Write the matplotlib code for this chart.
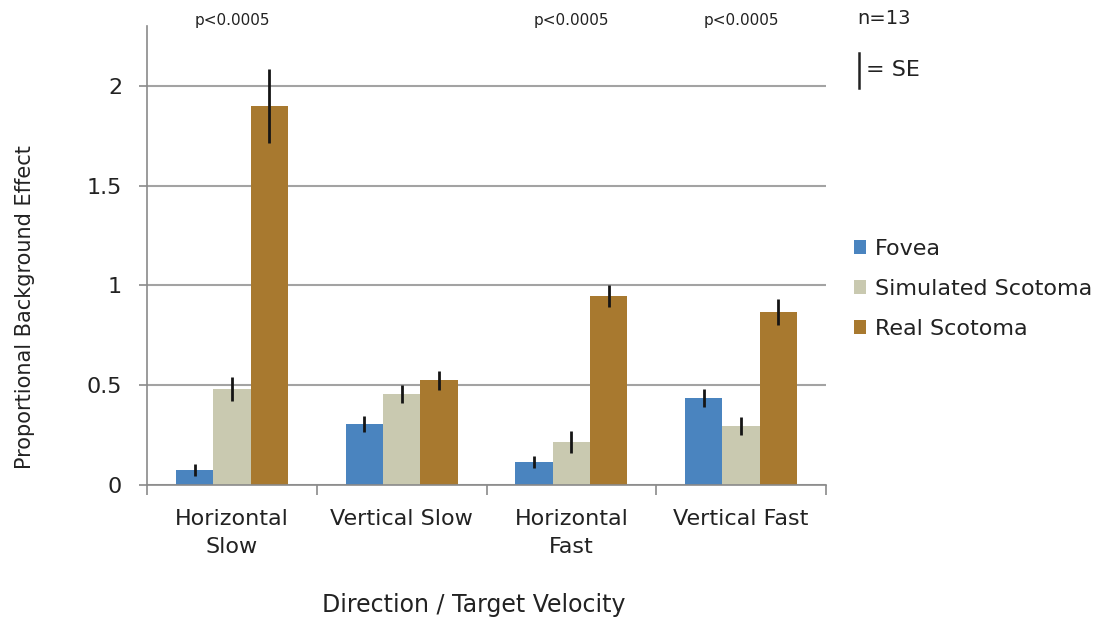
import matplotlib
matplotlib.use("Agg")
import matplotlib.pyplot as plt
import numpy as np
from matplotlib.lines import Line2D

plt.rcParams['font.family'] = ['DejaVu Sans']

categories = ["Horizontal\nSlow", "Vertical Slow", "Horizontal\nFast", "Vertical Fast"]
series_names = ["Fovea", "Simulated Scotoma", "Real Scotoma"]
fovea = [0.075, 0.305, 0.115, 0.437]
simulated = [0.48, 0.455, 0.214, 0.297]
real = [1.90, 0.525, 0.948, 0.865]
fovea_se = [0.03, 0.04, 0.03, 0.045]
simulated_se = [0.06, 0.045, 0.055, 0.045]
real_se = [0.185, 0.047, 0.055, 0.065]
p_labels = ["p<0.0005", "", "p<0.0005", "p<0.0005"]
y_ticks = [0, 0.5, 1, 1.5, 2]
y_ticklabels = ["0", "0.5", "1", "1.5", "2"]

colors = ["#4a84bf", "#c9c9b0", "#a8792f"]
values = [fovea, simulated, real]
errors = [fovea_se, simulated_se, real_se]
text_color = '#222222'

W, H = 1101, 623
fig = plt.figure(figsize=(W / 100, H / 100), dpi=100)
ax = fig.add_axes([147 / W, 1 - 485 / H, (826 - 147) / W, (485 - 26) / H])

x = np.arange(len(categories))
width = 0.22
handles = []
for i, (vals, errs, col, name) in enumerate(zip(values, errors, colors, series_names)):
    pos = x + (i - 1) * width
    b = ax.bar(pos, vals, width=width, color=col, label=name, zorder=2)
    ax.errorbar(pos, vals, yerr=errs, fmt='none', ecolor='#151515', elinewidth=2,
                capsize=0, zorder=3)
    handles.append(b)

ax.set_xlim(-0.5, len(categories) - 0.5)
ax.set_ylim(0, 2.3)
ax.set_yticks(y_ticks)
ax.set_yticklabels(y_ticklabels, fontsize=16, color=text_color)
ax.yaxis.grid(True, color='#a3a3a3', linewidth=1.5, zorder=0)
ax.set_axisbelow(True)

ax.set_xticks(x)
ax.set_xticklabels(categories, fontsize=16, color=text_color, linespacing=1.5)
ax.set_xticks(np.arange(len(categories) + 1) - 0.5, minor=True)
ax.tick_params(axis='x', which='major', length=0, pad=17)
ax.tick_params(axis='x', which='minor', length=7, width=1.2, color='#8a8a8a')
ax.tick_params(axis='y', length=6, width=1.2, color='#8a8a8a', pad=12)

for side in ['top', 'right']:
    ax.spines[side].set_visible(False)
for side in ['left', 'bottom']:
    ax.spines[side].set_color('#8a8a8a')
    ax.spines[side].set_linewidth(1.2)

ax.set_ylabel("Proportional Background Effect", fontsize=15, color=text_color)
ax.yaxis.set_label_coords((25 - 147) / 679, (485 - 307) / 459)
ax.yaxis.label.set_va('center')
ax.yaxis.label.set_ha('center')
ax.set_xlabel("Direction / Target Velocity", fontsize=17, color=text_color)
ax.xaxis.set_label_coords((474 - 147) / 679, (485 - 605) / 459)
ax.xaxis.label.set_va('center')

for xi, lab in zip(x, p_labels):
    if lab:
        ax.text(xi, 2.33, lab, ha='center', va='center', fontsize=11,
                color=text_color, clip_on=False)

fig.text(857 / W, 1 - 19 / H, "n=13", fontsize=14, color=text_color, va='center', ha='left')
fig.text(866 / W, 1 - 70 / H, "= SE", fontsize=16, color=text_color, va='center', ha='left')
fig.add_artist(Line2D([859 / W, 859 / W], [1 - 53 / H, 1 - 88 / H],
                      color=text_color, linewidth=1.8, transform=fig.transFigure))

fig.legend(handles=handles, labels=series_names, loc='upper left',
           bbox_to_anchor=(834 / W, 1 - 219 / H), frameon=False, fontsize=16,
           handlelength=0.55, handleheight=0.55, handletextpad=0.4, labelspacing=0.9,
           labelcolor=text_color)

fig.savefig("out.png", dpi=100)
